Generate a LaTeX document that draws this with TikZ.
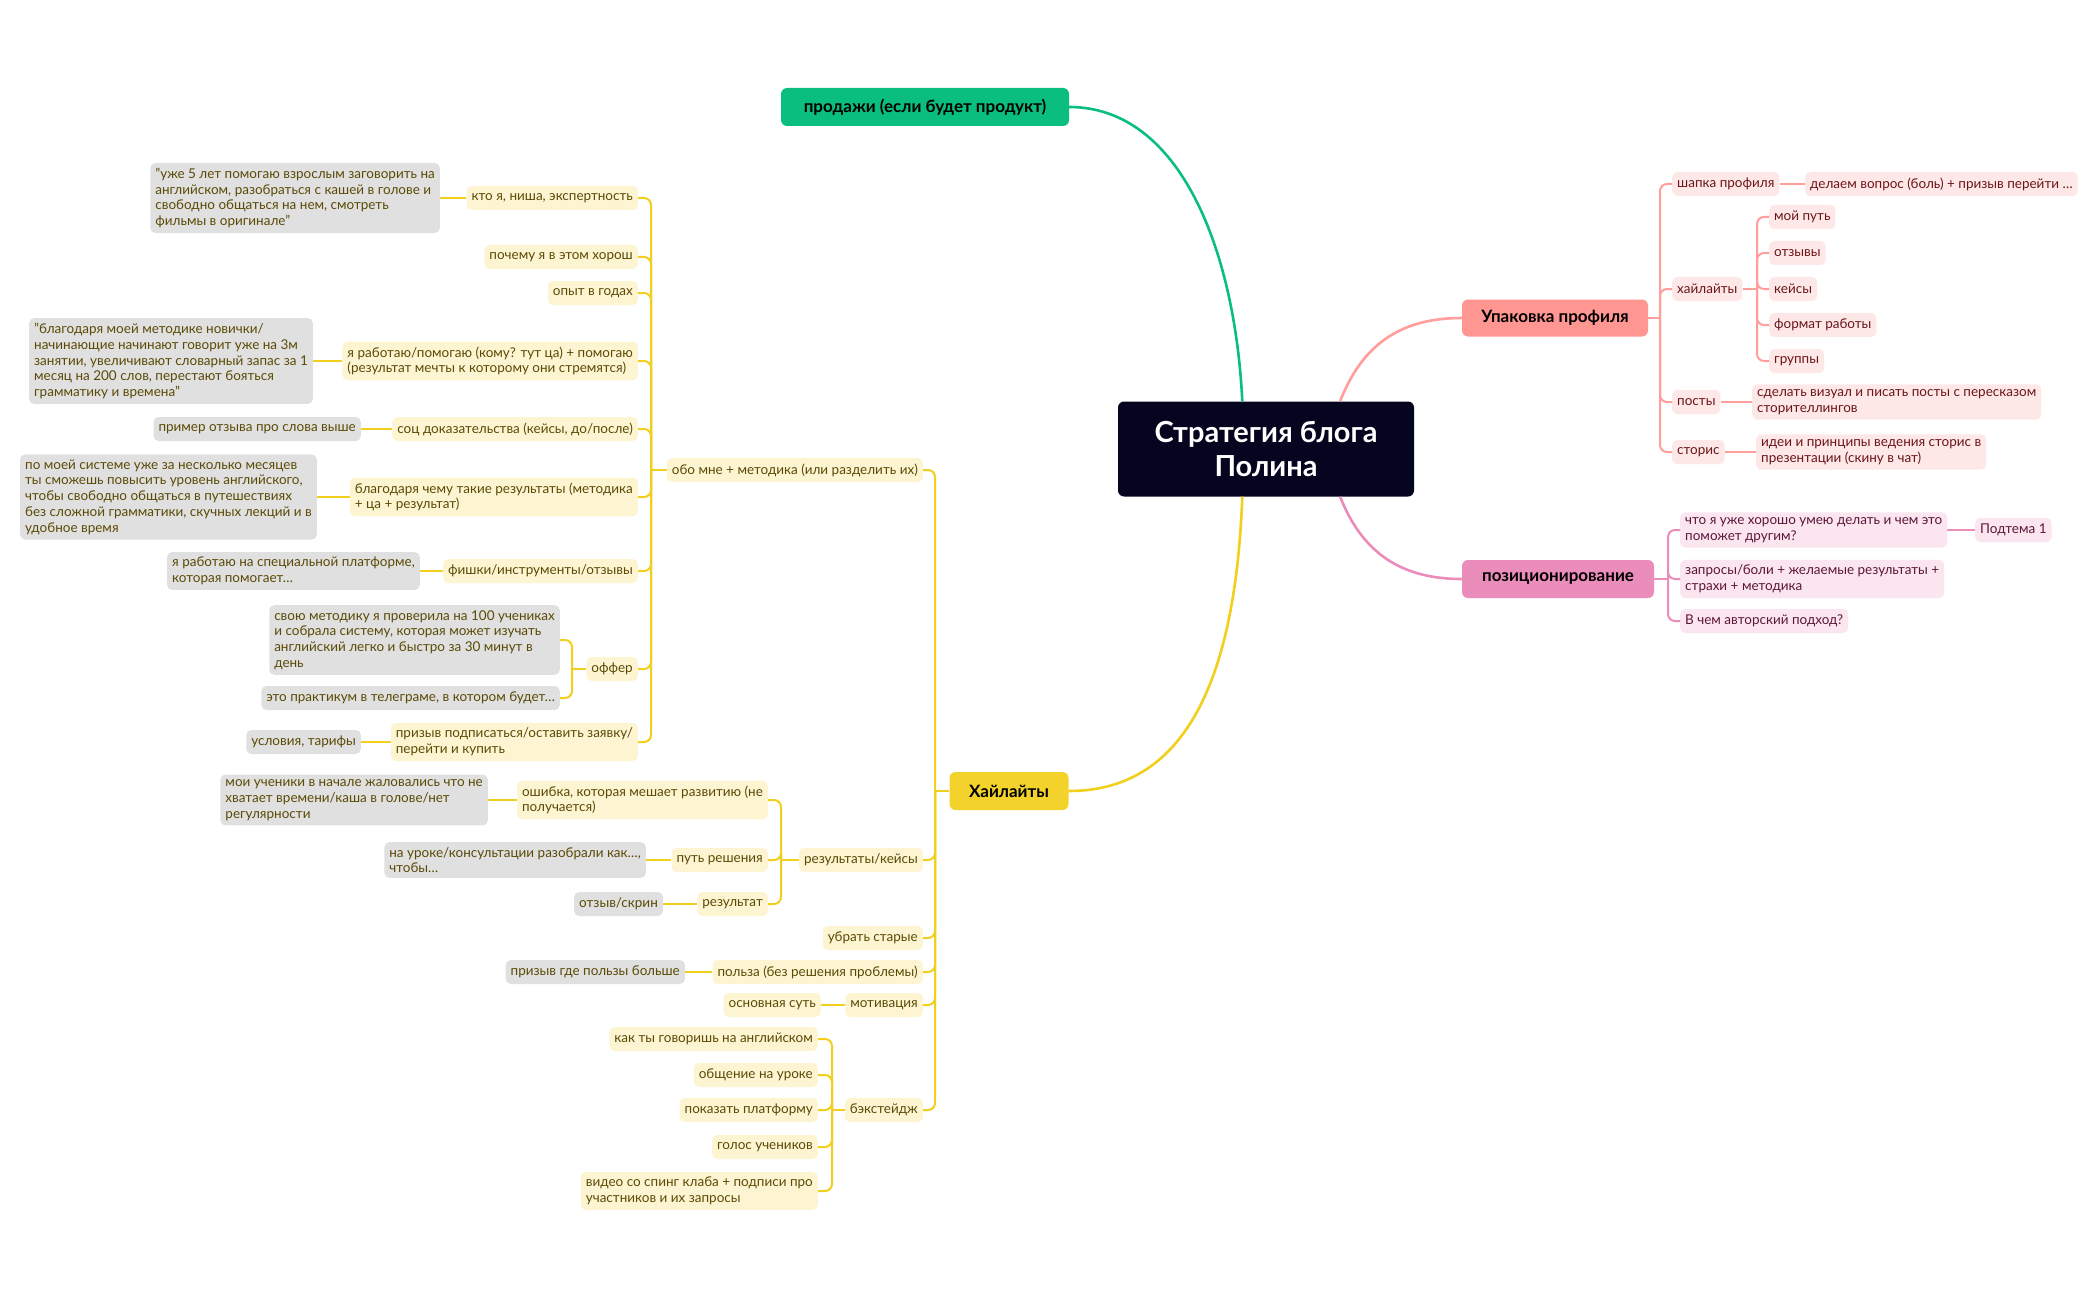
\documentclass[tikz,border=0pt]{standalone}
\usepackage{fontspec}
\setmainfont{Lato}
\usetikzlibrary{positioning, calc}
\definecolor{mmroot}{HTML}{05051F}
\definecolor{mmgreen}{HTML}{0ABF7E}
\definecolor{mmyel}{HTML}{F2D22B}
\definecolor{mmyelline}{HTML}{F2CF1D}
\definecolor{mmyellight}{HTML}{FDF5D2}
\definecolor{mmgray}{HTML}{E0E0E0}
\definecolor{mmolive}{HTML}{5A4A05}
\definecolor{mmsalmon}{HTML}{FF9692}
\definecolor{mmsalmonline}{HTML}{FF9E9A}
\definecolor{mmsalmonlight}{HTML}{FDE8E7}
\definecolor{mmmaroon}{HTML}{6B1419}
\definecolor{mmpink}{HTML}{EB8DBA}
\definecolor{mmpinklight}{HTML}{FBE6F0}
\definecolor{mmplum}{HTML}{5C1638}
\newcommand\subfont{\fontsize{13.5}{15.8}\selectfont}

\begin{document}
\begin{tikzpicture}[x=1pt, y=-1pt,
    branch/.style={rounded corners=6pt, inner sep=0pt, text=black,
                   font=\fontsize{17}{20}\selectfont\bfseries},
    yel/.style={fill=mmyellight, text=mmolive, rounded corners=5pt, inner xsep=5pt,
                inner ysep=5pt, minimum height=24pt, align=left, font=\subfont},
    gry/.style={yel, fill=mmgray},
    sal/.style={yel, fill=mmsalmonlight, text=mmmaroon},
    pnk/.style={yel, fill=mmpinklight, text=mmplum},
    yl/.style={draw=mmyelline, line width=2pt, rounded corners=7pt},
    sl/.style={draw=mmsalmonline, line width=2pt, rounded corners=7pt},
    pl/.style={draw=mmpink, line width=2pt, rounded corners=7pt},
    curve/.style={line width=2.6pt}]
    \fill[white] (0,0) rectangle (2097,1300);
    \useasboundingbox (0,0) rectangle (2097,1300);

    \node[branch, fill=mmroot, text=white, minimum width=296pt, minimum height=95pt,
          align=center, font=\fontsize{29}{34}\selectfont\bfseries] (root) at (1266,449)
      {Стратегия блога\\Полина};
    \node[branch, fill=mmgreen, minimum width=288pt, minimum height=38pt] (sales) at (925,107)
      {продажи (если будет продукт)};
    \node[branch, fill=mmsalmon, minimum width=186pt, minimum height=37pt] (pack) at (1555,318)
      {Упаковка профиля};
    \node[branch, fill=mmpink, minimum width=192pt, minimum height=38pt] (pos) at (1558,579)
      {позиционирование};
    \node[branch, fill=mmyel, minimum width=119pt, minimum height=38pt] (hl) at (1009,791)
      {Хайлайты};

    \coordinate (rootA) at ($(root.north west)!0.42!(root.north east)$);
    \coordinate (rootB) at ($(root.north west)!0.75!(root.north east)$);
    \coordinate (rootC) at ($(root.south west)!0.42!(root.south east)$);
    \coordinate (rootD) at ($(root.south west)!0.75!(root.south east)$);
    \draw[curve, mmgreen] (rootA) .. controls (1235,250) and (1180,107) .. (sales.east);
    \draw[curve, mmsalmonline] (rootB) .. controls (1362,345) and (1400,318) .. (pack.west);
    \draw[curve, mmpink] (rootD) .. controls (1362,552) and (1400,579) .. (pos.west);
    \draw[curve, mmyelline] (rootC) .. controls (1235,690) and (1180,791) .. (hl.east);

    % Хайлайты
    \node[yel, anchor=east] (me) at (923,470) {обо мне + методика (или разделить их)};
    \node[yel, anchor=east] (rs) at (923,860) {результаты/кейсы};
    \node[yel, anchor=east] (ub) at (923,938) {убрать старые};
    \node[yel, anchor=east] (pz) at (923,972) {польза (без решения проблемы)};
    \node[yel, anchor=east] (mt) at (923,1005) {мотивация};
    \node[yel, anchor=east] (bs) at (923,1110) {бэкстейдж};
    \coordinate (hlBus) at (935,791);
    \draw[yl] (hl.west) -- (hlBus);
    \draw[yl] (hlBus) |- (me.east);
    \draw[yl] (hlBus) |- (rs.east);
    \draw[yl] (hlBus) |- (ub.east);
    \draw[yl] (hlBus) |- (pz.east);
    \draw[yl] (hlBus) |- (mt.east);
    \draw[yl] (hlBus) |- (bs.east);

    % обо мне
    \node[yel, anchor=east] (me1) at (638,198) {кто я, ниша, экспертность};
    \node[yel, anchor=east] (me2) at (638,257) {почему я в этом хорош};
    \node[yel, anchor=east] (me3) at (638,293) {опыт в годах};
    \node[yel, anchor=east] (me4) at (638,361)
      {я работаю/помогаю (кому? тут ца) + помогаю\\(результат мечты к которому они стремятся)};
    \node[yel, anchor=east] (me5) at (638,429) {соц доказательства (кейсы, до/после)};
    \node[yel, anchor=east] (me6) at (638,497) {благодаря чему такие результаты (методика\\+ ца + результат)};
    \node[yel, anchor=east] (me7) at (638,571) {фишки/инструменты/отзывы};
    \node[yel, anchor=east] (me8) at (638,669) {оффер};
    \node[yel, anchor=east] (me9) at (638,742) {призыв подписаться/оставить заявку/\\перейти и купить};
    \coordinate (meBus) at (651,470);
    \draw[yl] (me.west) -- (meBus);
    \draw[yl] (meBus) |- (me1.east);
    \draw[yl] (meBus) |- (me2.east);
    \draw[yl] (meBus) |- (me3.east);
    \draw[yl] (meBus) |- (me4.east);
    \draw[yl] (meBus) |- (me5.east);
    \draw[yl] (meBus) |- (me6.east);
    \draw[yl] (meBus) |- (me7.east);
    \draw[yl] (meBus) |- (me8.east);
    \draw[yl] (meBus) |- (me9.east);

    \node[gry, anchor=east] (q1) at (440,198)
      {"уже 5 лет помогаю взрослым заговорить на\\английском, разобраться с кашей в голове и\\свободно общаться на нем, смотреть\\фильмы в оригинале"};
    \node[gry, anchor=east] (q4) at (313,361)
      {"благодаря моей методике новички/\\начинающие начинают говорит уже на 3м\\занятии, увеличивают словарный запас за 1\\месяц на 200 слов, перестают бояться\\грамматику и времена"};
    \node[gry, anchor=east] (q5) at (361,429) {пример отзыва про слова выше};
    \node[gry, anchor=east] (q6) at (317,497)
      {по моей системе уже за несколько месяцев\\ты сможешь повысить уровень английского,\\чтобы свободно общаться в путешествиях\\без сложной грамматики, скучных лекций и в\\удобное время};
    \node[gry, anchor=east] (q7) at (420,571) {я работаю на специальной платформе,\\которая помогает…};
    \node[gry, anchor=east] (of1) at (560,640)
      {свою методику я проверила на 100 учениках\\и собрала систему, которая может изучать\\английский легко и быстро за 30 минут в\\день};
    \node[gry, anchor=east] (of2) at (560,698) {это практикум в телеграме, в котором будет…};
    \node[gry, anchor=east] (q9) at (361,742) {условия, тарифы};
    \draw[yl] (me1.west) -- (q1.east);
    \draw[yl] (me4.west) -- (q4.east);
    \draw[yl] (me5.west) -- (q5.east);
    \draw[yl] (me6.west) -- (q6.east);
    \draw[yl] (me7.west) -- (q7.east);
    \draw[yl] (me9.west) -- (q9.east);
    \coordinate (ofBus) at (572,669);
    \draw[yl] (me8.west) -- (ofBus);
    \draw[yl] (ofBus) |- (of1.east);
    \draw[yl] (ofBus) |- (of2.east);

    % результаты/кейсы
    \node[yel, anchor=east] (rs1) at (768,800) {ошибка, которая мешает развитию (не\\получается)};
    \node[yel, anchor=east] (rs2) at (768,860) {путь решения};
    \node[yel, anchor=east] (rs3) at (768,904) {результат};
    \coordinate (rsBus) at (781,860);
    \draw[yl] (rs.west) -- (rsBus);
    \draw[yl] (rsBus) |- (rs1.east);
    \draw[yl] (rsBus) |- (rs2.east);
    \draw[yl] (rsBus) |- (rs3.east);
    \node[gry, anchor=east] (rq1) at (488,800)
      {мои ученики в начале жаловались что не\\хватает времени/каша в голове/нет\\регулярности};
    \node[gry, anchor=east] (rq2) at (646,860) {на уроке/консультации разобрали как…,\\чтобы…};
    \node[gry, anchor=east] (rq3) at (663,904) {отзыв/скрин};
    \draw[yl] (rs1.west) -- (rq1.east);
    \draw[yl] (rs2.west) -- (rq2.east);
    \draw[yl] (rs3.west) -- (rq3.east);

    \node[gry, anchor=east] (pzq) at (685,972) {призыв где пользы больше};
    \node[yel, anchor=east] (mtq) at (821,1005) {основная суть};
    \draw[yl] (pz.west) -- (pzq.east);
    \draw[yl] (mt.west) -- (mtq.east);

    % бэкстейдж
    \node[yel, anchor=east] (bs1) at (818,1039) {как ты говоришь на английском};
    \node[yel, anchor=east] (bs2) at (818,1075) {общение на уроке};
    \node[yel, anchor=east] (bs3) at (818,1110) {показать платформу};
    \node[yel, anchor=east] (bs4) at (818,1147) {голос учеников};
    \node[yel, anchor=east] (bs5) at (818,1191) {видео со спинг клаба + подписи про\\участников и их запросы};
    \coordinate (bsBus) at (832,1110);
    \draw[yl] (bs.west) -- (bsBus);
    \draw[yl] (bsBus) |- (bs1.east);
    \draw[yl] (bsBus) |- (bs2.east);
    \draw[yl] (bsBus) |- (bs3.east);
    \draw[yl] (bsBus) |- (bs4.east);
    \draw[yl] (bsBus) |- (bs5.east);

    % Упаковка профиля
    \node[sal, anchor=west] (pk1) at (1672,184) {шапка профиля};
    \node[sal, anchor=west] (pk2) at (1672,289) {хайлайты};
    \node[sal, anchor=west] (pk3) at (1672,402) {посты};
    \node[sal, anchor=west] (pk4) at (1672,452) {сторис};
    \coordinate (pkBus) at (1660,318);
    \draw[sl] (pack.east) -- (pkBus);
    \draw[sl] (pkBus) |- (pk1.west);
    \draw[sl] (pkBus) |- (pk2.west);
    \draw[sl] (pkBus) |- (pk3.west);
    \draw[sl] (pkBus) |- (pk4.west);
    \node[sal, anchor=west] (pq1) at (1805,184) {делаем вопрос (боль) + призыв перейти …};
    \node[sal, anchor=west] (pq3) at (1752,402) {сделать визуал и писать посты с пересказом\\сторителлингов};
    \node[sal, anchor=west] (pq4) at (1756,452) {идеи и принципы ведения сторис в\\презентации (скину в чат)};
    \draw[sl] (pk1.east) -- (pq1.west);
    \draw[sl] (pk3.east) -- (pq3.west);
    \draw[sl] (pk4.east) -- (pq4.west);
    \node[sal, anchor=west] (hl1) at (1769,217) {мой путь};
    \node[sal, anchor=west] (hl2) at (1769,253) {отзывы};
    \node[sal, anchor=west] (hl3) at (1769,289) {кейсы};
    \node[sal, anchor=west] (hl4) at (1769,325) {формат работы};
    \node[sal, anchor=west] (hl5) at (1769,361) {группы};
    \coordinate (hltBus) at (1757,289);
    \draw[sl] (pk2.east) -- (hltBus);
    \draw[sl] (hltBus) |- (hl1.west);
    \draw[sl] (hltBus) |- (hl2.west);
    \draw[sl] (hltBus) |- (hl3.west);
    \draw[sl] (hltBus) |- (hl4.west);
    \draw[sl] (hltBus) |- (hl5.west);

    % позиционирование
    \node[pnk, anchor=west] (ps1) at (1680,530) {что я уже хорошо умею делать и чем это\\поможет другим?};
    \node[pnk, anchor=west] (ps2) at (1680,579) {запросы/боли + желаемые результаты +\\страхи + методика};
    \node[pnk, anchor=west] (ps3) at (1680,621) {В чем авторский подход?};
    \node[pnk, anchor=west] (ps1a) at (1975,530) {Подтема 1};
    \coordinate (psBus) at (1668,579);
    \draw[pl] (pos.east) -- (psBus);
    \draw[pl] (psBus) |- (ps1.west);
    \draw[pl] (psBus) |- (ps2.west);
    \draw[pl] (psBus) |- (ps3.west);
    \draw[pl] (ps1.east) -- (ps1a.west);
\end{tikzpicture}
\end{document}
